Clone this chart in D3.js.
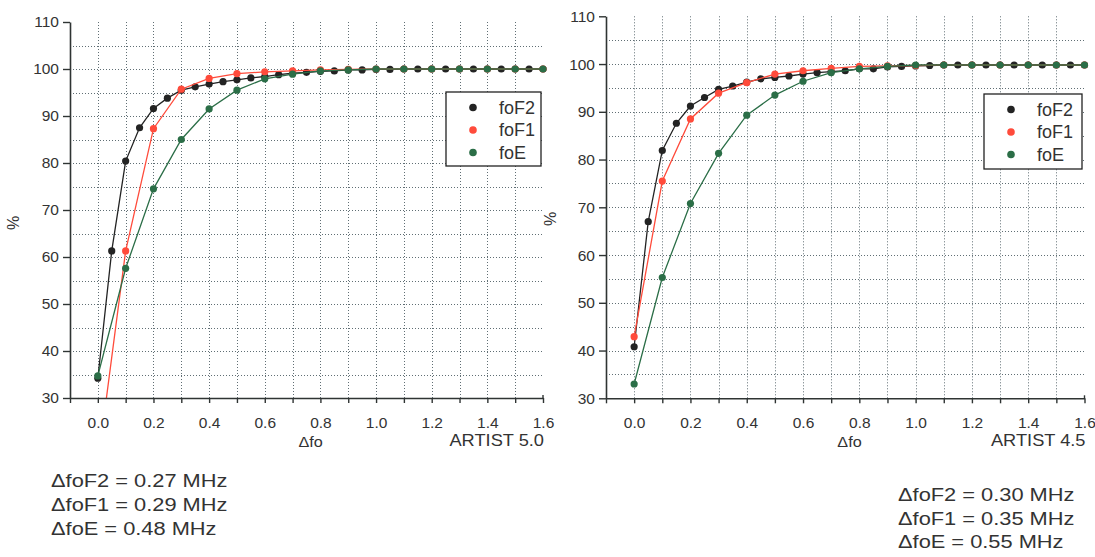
<!DOCTYPE html>
<html>
<head>
<meta charset="utf-8">
<script src="https://cdn.jsdelivr.net/npm/d3@7/dist/d3.min.js"></script>
<style>
  html, body { margin: 0; padding: 0; background: #ffffff; }
  svg { display: block; font-family: "Liberation Sans", Arial, Helvetica, sans-serif; }
</style>
</head>
<body>
<svg id="chart" width="1095" height="557"></svg>
<script>
// Δfo sample positions (MHz)
const xFine = [0, 0.05, 0.1, 0.15, 0.2, 0.25, 0.3, 0.35, 0.4, 0.45, 0.5, 0.55, 0.6, 0.65, 0.7, 0.75, 0.8,
               0.85, 0.9, 0.95, 1.0, 1.05, 1.1, 1.15, 1.2, 1.25, 1.3, 1.35, 1.4, 1.45, 1.5, 1.55, 1.6];
const xCoarse = [0, 0.1, 0.2, 0.3, 0.4, 0.5, 0.6, 0.7, 0.8, 0.9, 1.0, 1.1, 1.2, 1.3, 1.4, 1.5, 1.6];

// ARTIST 5.0 cumulative percentages
const a50_foF2 = [34.2, 61.3, 80.4, 87.5, 91.6, 93.8, 95.5, 96.2, 96.8, 97.3, 97.7, 98.1, 98.4, 98.8, 99.1, 99.3, 99.5,
                  99.6, 99.8, 99.8, 99.9, 99.9, 100, 100, 100, 100, 100, 100, 100, 100, 100, 100, 100];
const a50_foF1 = [16.0, 61.3, 87.3, 95.7, 98.0, 99.0, 99.4, 99.6, 99.8, 99.9, 100, 100, 100, 100, 100, 100, 100];
const a50_foE  = [34.7, 57.6, 74.5, 85.0, 91.5, 95.5, 97.9, 98.9, 99.6, 99.8, 100, 100, 100, 100, 100, 100, 100];

// ARTIST 4.5 cumulative percentages
const a45_foF2 = [40.8, 67.0, 81.9, 87.6, 91.2, 93.0, 94.7, 95.4, 96.2, 96.9, 97.2, 97.5, 97.9, 98.2, 98.4, 98.6, 99.0,
                  99.0, 99.4, 99.5, 99.6, 99.7, 99.8, 99.8, 99.8, 99.8, 99.8, 99.8, 99.8, 99.8, 99.8, 99.8, 99.8];
const a45_foF1 = [42.9, 75.5, 88.5, 93.9, 96.1, 97.9, 98.6, 99.1, 99.5, 99.6, 99.7, 99.8, 99.8, 99.8, 99.8, 99.8, 99.8];
const a45_foE  = [33.0, 55.3, 70.8, 81.3, 89.3, 93.5, 96.4, 98.2, 99.0, 99.5, 99.8, 99.8, 99.8, 99.8, 99.8, 99.8, 99.8];

// Axis ticks and labels
const xTickValues = [-0.1, 0, 0.1, 0.2, 0.3, 0.4, 0.5, 0.6, 0.7, 0.8, 0.9, 1.0, 1.1, 1.2, 1.3, 1.4, 1.5, 1.6];
const xTickLabels = [0, 0.2, 0.4, 0.6, 0.8, 1.0, 1.2, 1.4, 1.6];
const yTickLabels = [30, 40, 50, 60, 70, 80, 90, 100, 110];
const xGrid = [0, 0.1, 0.2, 0.3, 0.4, 0.5, 0.6, 0.7, 0.8, 0.9, 1.0, 1.1, 1.2, 1.3, 1.4, 1.5];
const yGrid = [35, 40, 45, 50, 55, 60, 65, 70, 75, 80, 85, 90, 95, 100, 105];

const seriesNames = ["foF2", "foF1", "foE"];
const seriesColors = { foF2: "#232323", foF1: "#ff4b3b", foE: "#2b6e47" };

const a50_notes = ["\u0394foF2 = 0.27 MHz", "\u0394foF1 = 0.29 MHz", "\u0394foE = 0.48 MHz"];
const a45_notes = ["\u0394foF2 = 0.30 MHz", "\u0394foF1 = 0.35 MHz", "\u0394foE = 0.55 MHz"];

const panels = [
  {
    id: "a50", title: "ARTIST 5.0",
    xRange: [70, 543], yRange: [398, 22],
    series: { foF2: [xFine, a50_foF2], foF1: [xCoarse, a50_foF1], foE: [xCoarse, a50_foE] },
    legend: { x: 446, y: 92, w: 95, h: 74 },
    pctX: 19, pctY: 223,
    notes: a50_notes, noteX: 51, noteY: [487, 511, 535]
  },
  {
    id: "a45", title: "ARTIST 4.5",
    xRange: [606, 1084.5], yRange: [398.3, 16.3],
    series: { foF2: [xFine, a45_foF2], foF1: [xCoarse, a45_foF1], foE: [xCoarse, a45_foE] },
    legend: { x: 984, y: 94, w: 98, h: 75 },
    pctX: 556, pctY: 219,
    notes: a45_notes, noteX: 898, noteY: [501, 524.5, 548]
  }
];

const svg = d3.select("#chart");
const defs = svg.append("defs");
const axisColor = "#2f3433";
const textColor = "#333333";

panels.forEach(p => {
  const x = d3.scaleLinear().domain([-0.1, 1.6]).range(p.xRange);
  const y = d3.scaleLinear().domain([30, 110]).range(p.yRange);
  const g = svg.append("g").attr("class", "panel-" + p.id);

  // dotted grid
  const grid = g.append("g").attr("class", "grid")
    .attr("stroke", "#4f5f66").attr("stroke-width", 1)
    .attr("stroke-dasharray", "1,2").attr("opacity", 0.9);
  grid.selectAll("line.v").data(xGrid).join("line").attr("class", "v")
    .attr("x1", d => Math.round(x(d)) + 0.5).attr("x2", d => Math.round(x(d)) + 0.5)
    .attr("y1", y(110)).attr("y2", y(30));
  grid.selectAll("line.h").data(yGrid).join("line").attr("class", "h")
    .attr("x1", x(-0.1)).attr("x2", x(1.6))
    .attr("y1", d => Math.round(y(d)) + 0.5).attr("y2", d => Math.round(y(d)) + 0.5);

  // data lines and markers, clipped to the plotting area
  const clipId = "clip-" + p.id;
  defs.append("clipPath").attr("id", clipId).append("rect")
    .attr("x", x(-0.1)).attr("y", y(110))
    .attr("width", x(1.6) - x(-0.1) + 6).attr("height", y(30) - y(110));
  const plot = g.append("g").attr("clip-path", `url(#${clipId})`);
  const line = d3.line().x(d => x(d[0])).y(d => y(d[1]));
  ["foF2", "foF1", "foE"].forEach(name => {
    const [xs, vs] = p.series[name];
    const pts = xs.map((d, i) => [d, vs[i]]);
    plot.append("path").datum(pts)
      .attr("fill", "none").attr("stroke", seriesColors[name])
      .attr("stroke-width", 1.3).attr("d", line);
    plot.append("g").selectAll("circle").data(pts).join("circle")
      .attr("cx", d => x(d[0])).attr("cy", d => y(d[1])).attr("r", 3.6)
      .attr("fill", seriesColors[name]);
  });

  // axes
  const xAxis = d3.axisBottom(x).tickValues(xTickValues).tickSize(5).tickSizeOuter(0)
    .tickFormat(d => xTickLabels.some(v => Math.abs(v - d) < 1e-9) ? d3.format(".1f")(d) : "");
  const gx = g.append("g").attr("transform", `translate(0,${y(30)})`).call(xAxis);
  const yAxis = d3.axisLeft(y).tickValues(yTickLabels).tickSize(7).tickSizeOuter(0).tickFormat(d3.format("d"));
  const gy = g.append("g").attr("transform", `translate(${x(-0.1)},0)`).call(yAxis);
  [gx, gy].forEach(ax => {
    ax.select(".domain").attr("stroke", axisColor).attr("stroke-width", 1.6);
    ax.selectAll(".tick line").attr("stroke", axisColor).attr("stroke-width", 1.4);
    ax.selectAll(".tick text").attr("fill", textColor).attr("font-size", 15.5)
      .attr("font-family", "'Liberation Sans', Arial, sans-serif");
  });
  gx.selectAll(".tick text").attr("dy", "1.4em");
  gy.selectAll(".tick text").attr("x", -11);

  // right-end tick of the x axis rises slightly above the line
  g.append("line").attr("x1", x(1.6)).attr("x2", x(1.6))
    .attr("y1", y(30) - 3).attr("y2", y(30)).attr("stroke", axisColor).attr("stroke-width", 1.4);

  // axis titles
  g.append("text").attr("transform", `translate(${p.pctX},${p.pctY}) rotate(-90)`)
    .attr("text-anchor", "middle").attr("font-size", 16).attr("fill", textColor).text("%");
  g.append("g").attr("transform", `translate(${x(0.765)},447) scale(1.08,1)`)
    .append("text").attr("text-anchor", "middle").attr("font-size", 15)
    .attr("fill", textColor).text("\u0394fo");
  g.append("g").attr("transform", `translate(${x(1.6) + 1},446) scale(1.14,1)`)
    .append("text").attr("text-anchor", "end").attr("font-size", 16).attr("fill", textColor).text(p.title);

  // legend
  const L = p.legend;
  const lg = g.append("g").attr("class", "legend");
  lg.append("rect").attr("x", L.x).attr("y", L.y).attr("width", L.w).attr("height", L.h)
    .attr("fill", "#ffffff").attr("stroke", "#222").attr("stroke-width", 1.3);
  seriesNames.forEach((name, i) => {
    const cy = L.y + 15.5 + i * 22.5;
    lg.append("circle").attr("cx", L.x + 27).attr("cy", cy).attr("r", 3.8).attr("fill", seriesColors[name]);
    lg.append("text").attr("x", L.x + 53).attr("y", cy + 6).attr("font-size", 18)
      .attr("fill", textColor).text(name);
  });

  // accuracy notes below each panel
  p.notes.forEach((t, i) => {
    g.append("g").attr("transform", `translate(${p.noteX},${p.noteY[i]}) scale(1.18,1)`)
      .append("text").attr("font-size", 18.5).attr("fill", textColor).text(t);
  });
});
</script>
</body>
</html>
